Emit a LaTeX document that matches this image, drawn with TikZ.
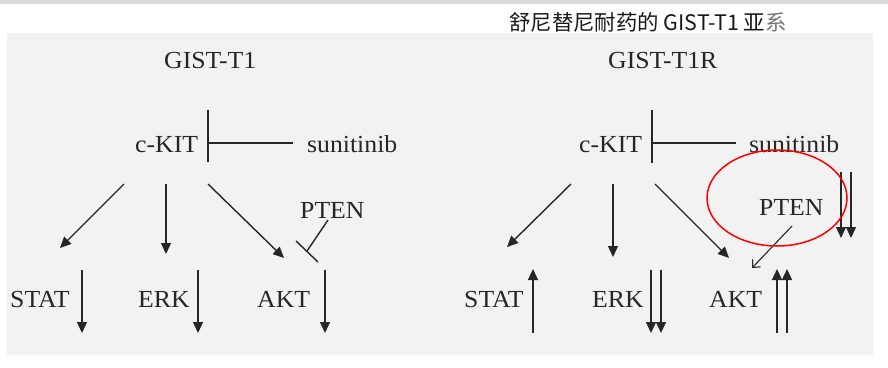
\documentclass[tikz,border=0pt]{standalone}
\usepackage{fontspec}
\setmainfont{Liberation Serif}[FakeStretch=1.05]
\newfontfamily\cjkfont{Noto Sans CJK SC}
\usetikzlibrary{arrows.meta,shapes.geometric}
\definecolor{panel}{HTML}{F2F2F2}
\definecolor{topband}{HTML}{DCDCDC}
\definecolor{ink}{HTML}{262626}
\begin{document}
\begin{tikzpicture}[x=1pt,y=-1pt,
  lab/.style={font=\fontsize{24.5}{24.5}\selectfont, text=ink, inner sep=0pt, anchor=base west},
  arr/.style={draw=ink, line width=1.4pt, -{Triangle[length=11pt,width=10pt]}},
  inh/.style={draw=ink, line width=1.4pt},
  thinarr/.style={draw=ink, line width=1.1pt, -{Straight Barb[length=6pt,width=11pt,line width=1.1pt]}},
]
\useasboundingbox (0,0) rectangle (888,367);
\fill[white] (0,0) rectangle (888,367);
\fill[topband] (0,0) rectangle (888,3.5);
\fill[panel] (7,33) rectangle (873,355);
\node[font=\cjkfont\fontsize{21.4}{21.4}\selectfont, text=black!90, inner sep=0pt, anchor=base west] (title) at (509,30.5) {舒尼替尼耐药的 GIST-T1 亚\textcolor{black!55}{系}};

% ---------- left: GIST-T1 ----------
\node[lab] (gL) at (164,68) {GIST-T1};
\node[lab] (kitL) at (135,152) {c-KIT};
\node[lab] (sunL) at (307,152) {sunitinib};
\node[lab] (ptenL) at (300,218) {PTEN};
\node[lab] (statL) at (10,307) {STAT};
\node[lab] (erkL) at (138,307) {ERK};
\node[lab] (aktL) at (257,307) {AKT};

\coordinate (barLt) at (208,110);
\coordinate (barLb) at (208,162);
\coordinate (barLm) at (208,143);
\coordinate (sunLe) at (293,143);
\draw[inh] (barLt) -- (barLb);
\draw[inh] (sunLe) -- (barLm);

\coordinate (kL1) at (124,184); \coordinate (sL1) at (60,248);
\coordinate (kL2) at (166,184); \coordinate (eL1) at (166,254);
\coordinate (kL3) at (208,184); \coordinate (aL1) at (284,258);
\draw[arr] (kL1) -- (sL1);
\draw[arr] (kL2) -- (eL1);
\draw[arr] (kL3) -- (aL1);

\coordinate (pL1) at (328,220);
\coordinate (pL2) at (307,251);
\coordinate (pLb1) at (296,241);
\coordinate (pLb2) at (318,262);
\draw[inh] (pL1) -- (pL2);
\draw[inh] (pLb1) -- (pLb2);

\coordinate (sa1) at (82,270); \coordinate (sa2) at (82,333);
\coordinate (ea1) at (198,270); \coordinate (ea2) at (198,333);
\coordinate (aa1) at (325,270); \coordinate (aa2) at (325,333);
\draw[arr] (sa1) -- (sa2);
\draw[arr] (ea1) -- (ea2);
\draw[arr] (aa1) -- (aa2);

% ---------- right: GIST-T1R ----------
\node[lab] (gR) at (608,68) {GIST-T1R};
\node[lab] (kitR) at (579,152) {c-KIT};
\node[lab] (sunR) at (749,152) {sunitinib};
\node[lab] (ptenR) at (759,215) {PTEN};
\node[lab] (statR) at (464,307) {STAT};
\node[lab] (erkR) at (592,307) {ERK};
\node[lab] (aktR) at (709,307) {AKT};

\coordinate (barRt) at (652,110);
\coordinate (barRb) at (652,163);
\coordinate (barRm) at (652,143);
\coordinate (sunRe) at (736,143);
\draw[inh] (barRt) -- (barRb);
\draw[inh] (sunRe) -- (barRm);

\coordinate (kR1) at (571,184); \coordinate (sR1) at (507,247);
\coordinate (kR2) at (613,184); \coordinate (eR1) at (613,257);
\coordinate (kR3) at (655,184); \coordinate (aR1) at (729,258);
\draw[arr] (kR1) -- (sR1);
\draw[arr] (kR2) -- (eR1);
\draw[arr] (kR3) -- (aR1);

\coordinate (pR1) at (792,226); \coordinate (pR2) at (752,268);
\draw[thinarr] (pR1) -- (pR2);

\coordinate (pd1a) at (841,172); \coordinate (pd1b) at (841,238);
\coordinate (pd2a) at (851,172); \coordinate (pd2b) at (851,238);
\draw[arr] (pd1a) -- (pd1b);
\draw[arr] (pd2a) -- (pd2b);

\coordinate (su1) at (533,333); \coordinate (su2) at (533,269);
\draw[arr] (su1) -- (su2);

\coordinate (ed1a) at (651,270); \coordinate (ed1b) at (651,333);
\coordinate (ed2a) at (661,270); \coordinate (ed2b) at (661,333);
\draw[arr] (ed1a) -- (ed1b);
\draw[arr] (ed2a) -- (ed2b);

\coordinate (au1a) at (777,333); \coordinate (au1b) at (777,269);
\coordinate (au2a) at (787,333); \coordinate (au2b) at (787,269);
\draw[arr] (au1a) -- (au1b);
\draw[arr] (au2a) -- (au2b);

\node[draw=red, line width=1.5pt, ellipse, minimum width=140pt, minimum height=96pt, inner sep=0pt] (ring) at (777,198) {};
\end{tikzpicture}
\end{document}
